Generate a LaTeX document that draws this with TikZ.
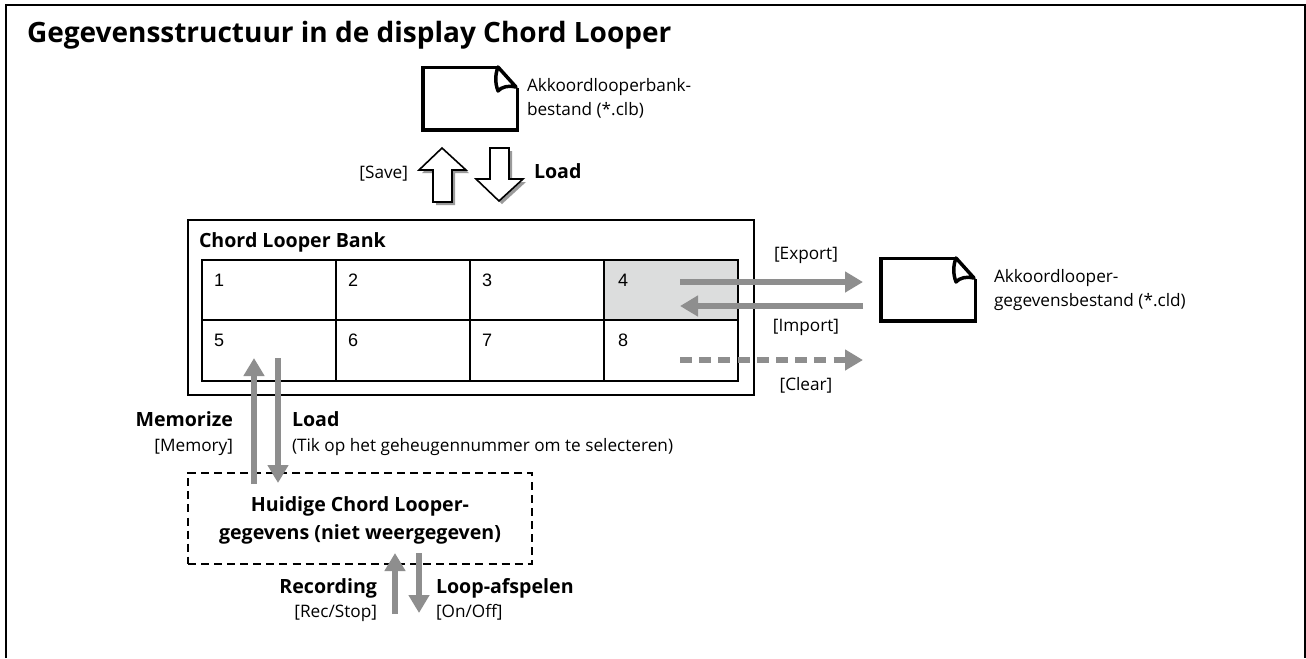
\documentclass[tikz,border=0pt]{standalone}
\usepackage{fontspec}
\setmainfont{Open Sans}
\newfontfamily\digitfont{Liberation Sans}
\usetikzlibrary{arrows.meta}
\definecolor{arrowgray}{HTML}{8E8E8E}
\definecolor{shadowgray}{HTML}{9A9A9A}
\definecolor{cellgray}{HTML}{DCDDDD}
\tikzset{
  x=0.75pt,y=-0.75pt,
  every node/.style={inner sep=0pt,outer sep=0pt},
  body/.style={font=\fontsize{12.9}{18}\selectfont,align=left},
  strong/.style={font=\fontsize{14.7}{21}\selectfont\bfseries,align=left},
  digit/.style={font=\digitfont\fontsize{13.5}{14}\selectfont,anchor=base west},
  doc/.style={draw=black,fill=white,line width=2.7pt,line join=miter,minimum width=71pt,minimum height=47pt},
  flow/.style={draw=arrowgray,line width=4.5pt,-{Triangle[length=13.5pt,width=15pt,fill=arrowgray]}},
  flowdash/.style={flow,dash pattern=on 9pt off 5.4pt},
  blockarrow/.style={draw=black,fill=white,line width=1.2pt,line join=miter},
  blockshadow/.style={fill=shadowgray,draw=none},
  panel/.style={draw=black,line width=1.9pt},
  cell/.style={draw=black,line width=1.5pt},
}
\newcommand{\docfold}[1]{%
  \fill[white] ([shift={(-19,-2)}]#1) rectangle ([shift={(3,21)}]#1);
  \draw[line width=2.6pt,line join=round,fill=white]
    ([shift={(-18,0)}]#1) -- ([shift={(0,20)}]#1)
    .. controls ([shift={(-7,18)}]#1) and ([shift={(-15,20)}]#1) .. ([shift={(-18,24)}]#1)
    .. controls ([shift={(-21,16)}]#1) and ([shift={(-21,8)}]#1) .. cycle;
}
\begin{document}
\begin{tikzpicture}
\useasboundingbox (0,0) rectangle (1306,658);
\fill[white] (0,0) rectangle (1306,658);
\draw[black,line width=1pt] (6,658) -- (6,5) -- (1305,5) -- (1305,658);

\node[anchor=base west,font=\fontsize{21}{25}\selectfont\bfseries] (title) at (27,42) {Gegevensstructuur in de display Chord Looper};

% top file
\node[doc,anchor=south west] (bankfile) at (423,130) {};
\coordinate (bankcorner) at (516,67);
\docfold{bankcorner}
\node[body,anchor=base west] (banklabel) at (527,115) {Akkoordlooperbank-\\bestand (*.clb)};

% block arrows
\fill[blockshadow,shift={(3,3)}] (442,148) -- (466,170) -- (452,170) -- (452,202) -- (433,202) -- (433,170) -- (419,170) -- cycle;
\draw[blockarrow] (442,148) -- (466,170) -- (452,170) -- (452,202) -- (433,202) -- (433,170) -- (419,170) -- cycle;
\fill[blockshadow,shift={(3,3)}] (499,201) -- (523,179) -- (509,179) -- (509,148) -- (490,148) -- (490,179) -- (476,179) -- cycle;
\draw[blockarrow] (499,201) -- (523,179) -- (509,179) -- (509,148) -- (490,148) -- (490,179) -- (476,179) -- cycle;
\node[body,anchor=base east] (savelabel) at (408,178) {[Save]};
\node[strong,anchor=base west] (loadtop) at (534,178) {Load};

% bank panel
\node[panel,anchor=north west,minimum width=424.5pt,minimum height=131.2pt] (bank) at (188,220) {};
\node[strong,anchor=base west] (banktitle) at (199,247) {Chord Looper Bank};
\fill[cellgray] (604,260) rectangle (738,320);
\node[cell,anchor=north west,minimum width=402pt,minimum height=91pt] (grid) at (202,260) {};
\draw[cell] (202,320) -- (738,320);
\draw[cell] (336,260) -- (336,381);
\draw[cell] (470,260) -- (470,381);
\draw[cell] (604,260) -- (604,381);
\node[digit] (c1) at (214,286) {1};
\node[digit] (c2) at (348,286) {2};
\node[digit] (c3) at (482,286) {3};
\node[digit] (c4) at (618,286) {4};
\node[digit] (c5) at (214,346) {5};
\node[digit] (c6) at (348,346) {6};
\node[digit] (c7) at (482,346) {7};
\node[digit] (c8) at (618,346) {8};

% right file
\node[doc,anchor=south west] (cldfile) at (881,321) {};
\coordinate (cldcorner) at (974,258);
\docfold{cldcorner}
\node[body,anchor=base west] (cldlabel) at (994,306) {Akkoordlooper-\\gegevensbestand (*.cld)};

% horizontal flows
\coordinate (expA) at (680,282); \coordinate (expB) at (863,282);
\coordinate (impA) at (863,306); \coordinate (impB) at (680,306);
\coordinate (clrA) at (680,360); \coordinate (clrB) at (863,360);
\draw[flow] (expA) -- (expB);
\draw[flow] (impA) -- (impB);
\draw[flowdash] (clrA) -- (clrB);
\node[body,anchor=base] (export) at (806,259) {[Export]};
\node[body,anchor=base] (import) at (806,331) {[Import]};
\node[body,anchor=base] (clear) at (806,390) {[Clear]};

% current data
\node[draw=black,line width=1.5pt,dash pattern=on 6pt off 3.8pt,anchor=north west,minimum width=258pt,minimum height=68pt] (current) at (188,473) {};
\node[strong,align=center,anchor=base] (currentlabel) at (360,539) {Huidige Chord Looper-\\gegevens (niet weergegeven)};

\coordinate (memA) at (254,484); \coordinate (memB) at (254,358);
\coordinate (lodA) at (278,358); \coordinate (lodB) at (278,483);
\draw[flow] (memA) -- (memB);
\draw[flow] (lodA) -- (lodB);
\node[strong,anchor=base east] (memorize) at (233,426) {Memorize};
\node[body,anchor=base east] (memory) at (233,451) {[Memory]};
\node[strong,anchor=base west] (loadmid) at (292,426) {Load};
\node[body,anchor=base west] (tik) at (292,451) {(Tik op het geheugennummer om te selecteren)};

\coordinate (recA) at (395,614); \coordinate (recB) at (395,553);
\coordinate (plyA) at (419,553); \coordinate (plyB) at (419,613);
\draw[flow] (recA) -- (recB);
\draw[flow] (plyA) -- (plyB);
\node[strong,anchor=base east] (recording) at (377,593) {Recording};
\node[body,anchor=base east] (recstop) at (377,617) {[Rec/Stop]};
\node[strong,anchor=base west] (loopplay) at (436,593) {Loop-afspelen};
\node[body,anchor=base west] (onoff) at (436,617) {[On/Off]};
\end{tikzpicture}
\end{document}
